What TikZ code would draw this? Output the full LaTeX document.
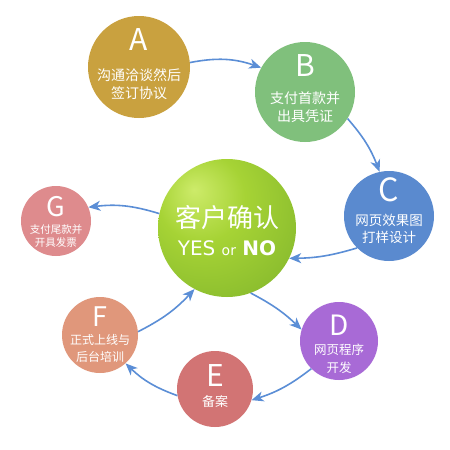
\documentclass[tikz,border=0pt]{standalone}
\usepackage{fontspec}
\newfontfamily\cjk{Noto Sans CJK SC}
\newfontfamily\latin{DejaVu Sans}
\usetikzlibrary{arrows.meta}
\definecolor{flowblue}{HTML}{5B8ED6}
\definecolor{colA}{HTML}{C9A13F}
\definecolor{colB}{HTML}{80C07C}
\definecolor{colC}{HTML}{5A8ACF}
\definecolor{colD}{HTML}{A86AD6}
\definecolor{colE}{HTML}{D27474}
\definecolor{colF}{HTML}{E0977B}
\definecolor{colG}{HTML}{DE8B8D}
\definecolor{ballhi}{HTML}{CDEB6A}
\definecolor{ballmid}{HTML}{A6D335}
\definecolor{balledge}{HTML}{7DB22B}
\pgfdeclareradialshading{okball}{\pgfpoint{-12bp}{14bp}}{color(0bp)=(ballhi); color(16bp)=(ballmid); color(46bp)=(balledge); color(75bp)=(balledge)}
\begin{document}
\begin{tikzpicture}[x=1pt, y=-1pt, every node/.style={text=white, font=\cjk},
    flow/.style={flowblue, line width=1.6pt, -{Stealth[length=12pt, width=10pt, inset=3.5pt]}}]
  \useasboundingbox[fill=white] (0,0) rectangle (450,450);
  % step circles
  \foreach \name/\x/\y/\r/\col in {A/139/67/51/colA, B/305/92/50/colB, C/389/216/45/colC,
      D/339/341/39/colD, E/215/389/38/colE, F/100/335/38/colF, G/56/221/35/colG}
    \node[circle, fill=\col, minimum size={2*\r pt}, inner sep=0pt] (\name) at (\x,\y) {};
  \node[circle, shading=okball, minimum size=138pt, inner sep=0pt] (ok) at (227,228) {};
  % letters
  \foreach \name/\dy/\s in {A/27/30, B/26/30, C/26/32, D/16/28, E/14/30, F/18/27, G/14/27}
    \node[font=\cjk\fontsize{\s}{\s}\selectfont] (\name letter) at ([yshift=\dy pt]\name) {\name};
  % texts
  \node[align=center, font=\cjk\fontsize{14}{18}\selectfont] (A text) at ([yshift=-17pt]A) {沟通洽谈然后\\签订协议};
  \node[align=center, font=\cjk\fontsize{14}{18}\selectfont] (B text) at ([yshift=-15pt]B) {支付首款并\\出具凭证};
  \node[align=center, font=\cjk\fontsize{13.5}{17}\selectfont] (C text) at ([yshift=-12.5pt]C) {网页效果图\\打样设计};
  \node[align=center, font=\cjk\fontsize{12.5}{18}\selectfont] (D text) at ([yshift=-18pt]D) {网页程序\\开发};
  \node[font=\cjk\fontsize{13}{13}\selectfont] (E text) at ([yshift=-13pt]E) {备案};
  \node[align=center, font=\cjk\fontsize{12}{17}\selectfont] (F text) at ([yshift=-13.5pt]F) {正式上线与\\后台培训};
  \node[align=center, font=\cjk\fontsize{10.5}{12.5}\selectfont] (G text) at ([yshift=-15pt]G) {支付尾款并\\开具发票};
  \node[font=\cjk\fontsize{26}{26}\selectfont] (ok text) at ([yshift=10pt]ok) {客户确认};
  \node[font=\latin\fontsize{20}{20}\selectfont] (ok answer) at ([yshift=-20pt]ok)
    {YES {\fontsize{14}{14}\selectfont or} \textbf{NO}};
  % arrows
  \draw[flow] (A.5) to[bend left=15] (B.151);
  \draw[flow] (B.-32) to[bend left=10] (C.102);
  \draw[flow] (C.-135) to[bend left=8] (ok.-26);
  \draw[flow] (ok.-70) to[bend left=8] (D.163);
  \draw[flow] (D.-135) to[bend left=10] (E.-17);
  \draw[flow] (E.190) to[bend left=12] (F.-48);
  \draw[flow] (F.5) to[bend right=10] (ok.-118);
  \draw[flow] (ok.168) to[bend right=12] (G.23);
\end{tikzpicture}
\end{document}
